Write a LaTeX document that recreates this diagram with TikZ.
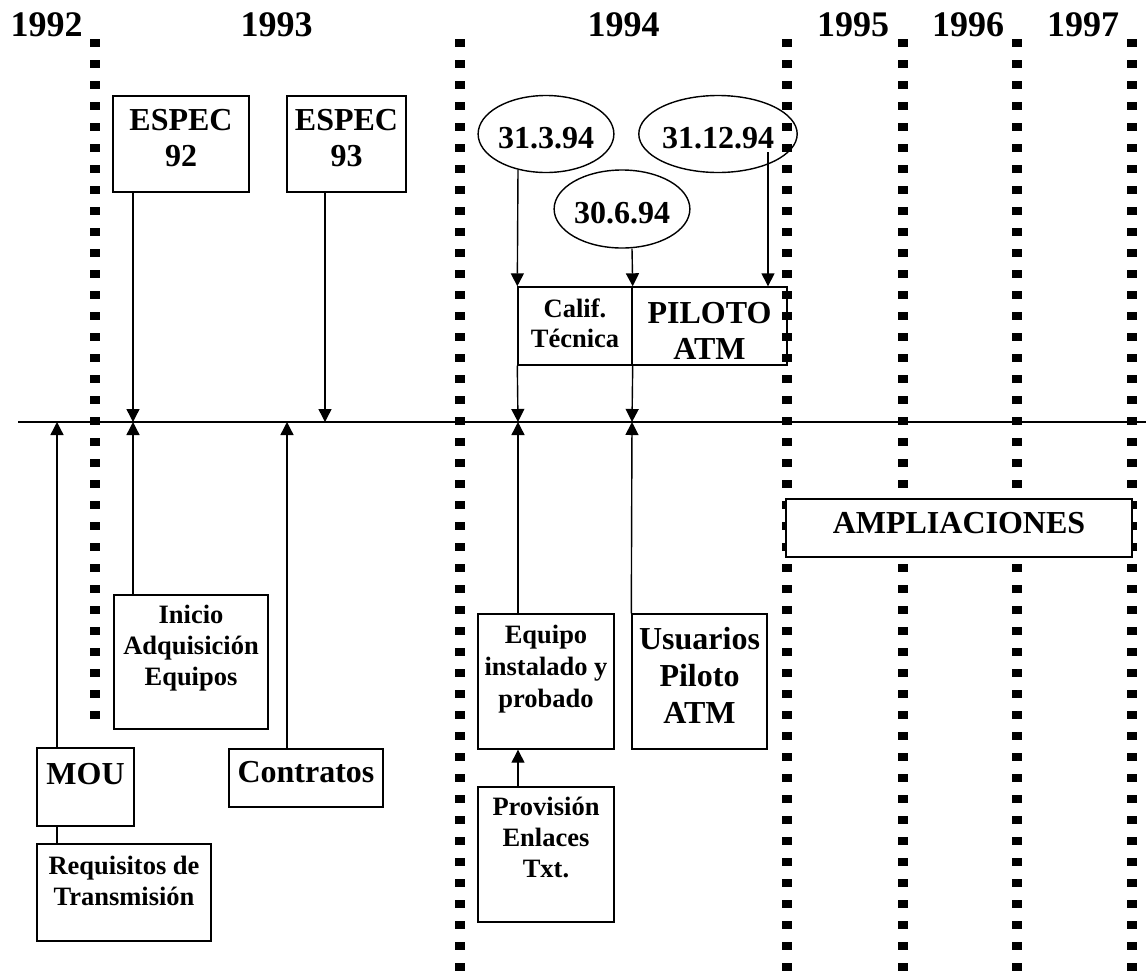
\documentclass[tikz,border=0pt]{standalone}
\usepackage{fontspec}
\setmainfont{Liberation Serif}
\usetikzlibrary{arrows.meta,shapes.geometric}
% centred multi-line text whose baseline is that of its first line
\newcommand{\lines}[1]{\begin{tabular}[t]{@{}c@{}}#1\end{tabular}}
\newcommand{\fsz}[2]{\fontsize{#1}{#2}\selectfont\bfseries}
\begin{document}
\begin{tikzpicture}[x=1pt,y=-1pt,
  box/.style={draw, fill=white, line width=1.4pt, inner sep=0pt, anchor=base},
  big/.style={font=\fsz{32}{36}},
  small/.style={font=\fsz{26.5}{31}},
  datebox/.style={draw, fill=white, ellipse, line width=1.4pt, inner sep=0pt,
    font=\fsz{32}{36}, text height=28pt, text depth=0pt},
  arr/.style={line width=1.4pt, -{Triangle[width=13pt,length=13pt]}},
  link/.style={line width=1.4pt},
  yearsep/.style={line width=10.8pt, dash pattern=on 8.4pt off 12.6pt},
  year/.style={font=\fsz{36}{40}, inner sep=0pt, anchor=base}]
\useasboundingbox (0,0) rectangle (1146,978);

% time axis
\coordinate (L0) at (18,422);
\coordinate (L1) at (1146,422);
\draw[line width=2.4pt] (L0) -- (L1);
\coordinate (m57) at (57,422);
\coordinate (m133) at (133,422);
\coordinate (m287) at (287,422);
\coordinate (m325) at (325,422);
\coordinate (m518) at (518,422);
\coordinate (m632) at (632,422);

% boxes above the axis
\node[box, big, minimum width=136pt, text height=34pt, text depth=62pt] (espec92) at (181,130) {\lines{ESPEC\\92}};
\node[box, big, minimum width=119pt, text height=34pt, text depth=62pt] (espec93) at (346.5,130) {\lines{ESPEC\\93}};
\node[box, font=\fsz{26.5}{30}, minimum width=114pt, text height=30pt, text depth=48pt] (calif) at (575,317) {\lines{Calif.\\Técnica}};
\node[box, big, minimum width=155pt, text height=36pt, text depth=42pt] (piloto) at (709.5,323) {\lines{PILOTO\\ATM}};

% boxes below the axis
\node[box, small, minimum width=154pt, text height=28pt, text depth=106pt] (inicio) at (191,623) {\lines{Inicio\\Adquisición\\Equipos}};
\node[box, big, minimum width=97pt, text height=36pt, text depth=42pt] (mou) at (85.5,784) {MOU};
\node[box, small, minimum width=174pt, text height=30pt, text depth=67pt] (requisitos) at (124,874) {\lines{Requisitos de\\Transmisión}};
\node[box, big, minimum width=154pt, text height=33pt, text depth=25pt] (contratos) at (306,782) {Contratos};
\node[box, font=\fsz{26.5}{32}, minimum width=136pt, text height=29pt, text depth=106pt] (equipo) at (546,643) {\lines{Equipo\\instalado y\\probado}};
\node[box, font=\fsz{32}{37}, minimum width=135pt, text height=35pt, text depth=100pt] (usuarios) at (699.5,649) {\lines{Usuarios\\Piloto\\ATM}};
\node[box, small, minimum width=136pt, text height=28pt, text depth=107pt] (provision) at (546,815) {\lines{Provisión\\Enlaces\\Txt.}};

% dated milestones
\node[datebox, minimum width=135pt, minimum height=77pt] (d1) at (546,134) {31.3.94};
\node[datebox, minimum width=135pt, minimum height=78pt] (d2) at (622,209) {30.6.94};
\node[datebox, minimum width=133pt, minimum height=77pt] (d3) at (718,134) {31.12.94};
\coordinate (d3s) at (768,152);

% connectors from above
\draw[arr] (espec92.south -| m133) -- (m133);
\draw[arr] (espec93.south -| m325) -- (m325);
\draw[arr] (d1.231 -| m518) -- (calif.north west);
\draw[arr] (d2.south -| m632) -- (calif.north east);
\draw[arr] (d3s) -- (d3s |- piloto.north);
\draw[arr] (calif.south west) -- (m518);
\draw[arr] (calif.south east) -- (m632);

% connectors from below
\draw[arr] (mou.north -| m57) -- (m57);
\draw[link] (mou.south -| m57) -- (requisitos.north -| m57);
\draw[arr] (inicio.north -| m133) -- (m133);
\draw[arr] (contratos.north -| m287) -- (m287);
\draw[arr] (equipo.north -| m518) -- (m518);
\draw[arr] (usuarios.north west) -- (m632);
\draw[arr] (provision.north -| m518) -- (equipo.south -| m518);

% year separators
\draw[yearsep] (95,39) -- (95,726);
\draw[yearsep] (460,39) -- (460,978);
\draw[yearsep] (787,39) -- (787,978);
\draw[yearsep] (903,39) -- (903,978);
\draw[yearsep] (1017,39) -- (1017,978);
\draw[yearsep] (1132,39) -- (1132,978);

\node[box, big, minimum width=346pt, text height=34pt, text depth=24pt] (ampl) at (959,533) {AMPLIACIONES};

% years
\node[year] (y1992) at (46.5,36) {1992};
\node[year] (y1993) at (276.5,36) {1993};
\node[year] (y1994) at (623.5,36) {1994};
\node[year] (y1995) at (853,36) {1995};
\node[year] (y1996) at (968,36) {1996};
\node[year] (y1997) at (1083,36) {1997};
\end{tikzpicture}
\end{document}
